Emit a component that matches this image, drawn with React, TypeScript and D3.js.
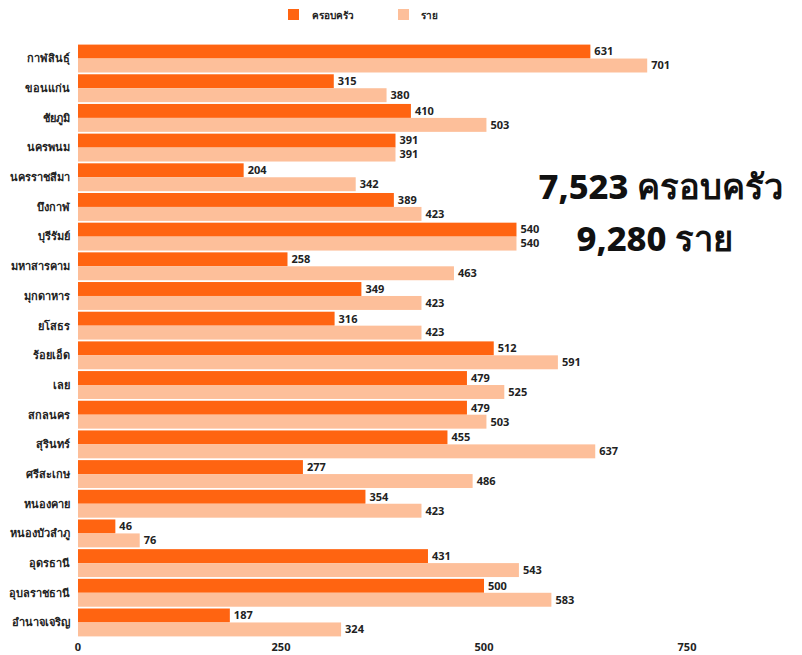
import React from "react";
import * as d3 from "d3";

const provinces = [
  "กาฬสินธุ์", "ขอนแก่น", "ชัยภูมิ", "นครพนม", "นครราชสีมา", "บึงกาฬ", "บุรีรัมย์",
  "มหาสารคาม", "มุกดาหาร", "ยโสธร", "ร้อยเอ็ด", "เลย", "สกลนคร", "สุรินทร์",
  "ศรีสะเกษ", "หนองคาย", "หนองบัวลำภู", "อุดรธานี", "อุบลราชธานี", "อำนาจเจริญ",
];
const households = [631, 315, 410, 391, 204, 389, 540, 258, 349, 316, 512, 479, 479, 455, 277, 354, 46, 431, 500, 187];
const persons = [701, 380, 503, 391, 342, 423, 540, 463, 423, 423, 591, 525, 503, 637, 486, 423, 76, 543, 583, 324];
const seriesNames = ["ครอบครัว", "ราย"];
const seriesColors = ["#FF6411", "#FDBF9A"];
const xTicks = [0, 250, 500, 750];
const totalHouseholds = "7,523 ครอบครัว";
const totalPersons = "9,280 ราย";

const FONT = "'Noto Sans', 'Liberation Sans', sans-serif";

export default function App() {
  const W = 802, H = 655;
  const x = d3.scaleLinear().domain([0, 750]).range([78, 687]);
  const y = d3.scaleBand<string>().domain(provinces).range([44, 637]).paddingInner(0.06).paddingOuter(0.02);
  const inner = d3.scaleBand<string>().domain(["0", "1"]).range([0, y.bandwidth()]);
  const series = [households, persons];
  return (
    <svg width={W} height={H} style={{ position: "absolute", left: 0, top: 0, background: "#fff" }} fontFamily={FONT}>
      {/* legend */}
      <g>
        <rect x={288} y={9} width={11} height={11} fill={seriesColors[0]} />
        <text x={312} y={18.5} fontSize={10} fontWeight={700} fill="#222">{seriesNames[0]}</text>
        <rect x={398} y={9} width={11} height={11} fill={seriesColors[1]} />
        <text x={421} y={18.5} fontSize={10} fontWeight={700} fill="#222">{seriesNames[1]}</text>
      </g>
      {provinces.map((p, i) => (
        <g key={p}>
          <text x={70} y={(y(p) as number) + y.bandwidth() / 2} dy="0.35em" textAnchor="end" fontSize={11} fontWeight={700} fill="#222">{p}</text>
          {series.map((s, k) => {
            const yy = (y(p) as number) + (inner(String(k)) as number);
            return (
              <g key={k}>
                <rect x={x(0)} y={yy} width={x(s[i]) - x(0)} height={inner.bandwidth()} fill={seriesColors[k]} />
                <text x={x(s[i]) + 4} y={yy + inner.bandwidth() / 2} dy="0.35em" fontSize={11} fontWeight={700} fill="#222">{s[i]}</text>
              </g>
            );
          })}
        </g>
      ))}
      {xTicks.map((t) => (
        <text key={t} x={x(t)} y={651} textAnchor="middle" fontSize={11} fontWeight={700} fill="#222">{t}</text>
      ))}
      <text x={661} y={199} textAnchor="middle" fontSize={34.5} fontWeight={800} fill="#111">{totalHouseholds}</text>
      <text x={655} y={251} textAnchor="middle" fontSize={34.5} fontWeight={800} fill="#111">{totalPersons}</text>
    </svg>
  );
}
